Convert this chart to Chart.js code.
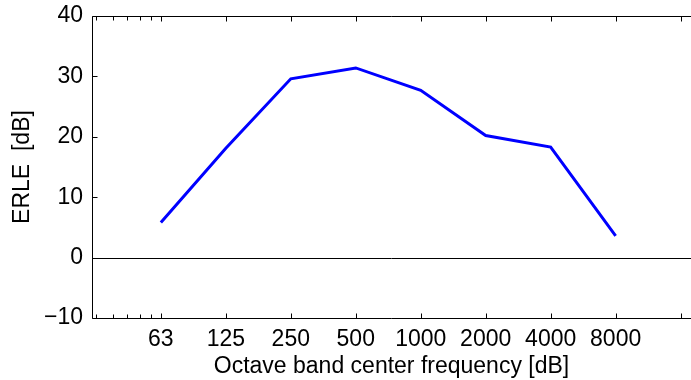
<!DOCTYPE html>
<html>
<head>
<meta charset="utf-8">
<script src="https://cdn.jsdelivr.net/npm/chart.js@4.4.1/dist/chart.umd.min.js"></script>
<style>
  html, body { margin: 0; padding: 0; background: #fff; }
  #wrap { width: 691px; height: 380px; }
</style>
</head>
<body>
<div id="wrap"><canvas id="erle-canvas"></canvas></div>
<script>
// octave bands, plotted at their octave index
var freqLabels = ['63', '125', '250', '500', '1000', '2000', '4000', '8000'];
var octave = [0, 1, 2, 3, 4, 5, 6, 7];
var erle = [5.8, 18.1, 29.6, 31.4, 27.7, 20.2, 18.3, 3.6];
var yTicks = [-10, 0, 10, 20, 30, 40];

var fontFam = '"Liberation Sans", Arial, Helvetica, sans-serif';
var fontSize = 23;

var points = [];
octave.forEach(function (o, i) {
    points.push({x: o, y: erle[i]});
});

// matlab style box: inward ticks, minor log ticks, zero line
var boxPlugin = {
    id: 'box',
    afterDraw: function (chart) {
        var ctx = chart.ctx, a = chart.chartArea;
        var xs = chart.scales.x, ys = chart.scales.y;
        ctx.save();
        ctx.strokeStyle = '#000';
        ctx.lineWidth = 1;

        var y0 = Math.round(ys.getPixelForValue(0)) + 0.5;
        ctx.beginPath();
        ctx.moveTo(a.left, y0);
        ctx.lineTo(a.right, y0);
        ctx.stroke();

        var L = Math.round(a.left) + 0.5, T = Math.round(a.top) + 0.5, B = Math.round(a.bottom) + 0.5;
        ctx.beginPath();
        ctx.moveTo(a.right, T);
        ctx.lineTo(L, T);
        ctx.lineTo(L, B);
        ctx.lineTo(a.right, B);
        ctx.stroke();

        // x ticks: octave marks plus minor ticks below the first band
        var xt = [-1, Math.log2(0.6), Math.log2(0.7), Math.log2(0.8), Math.log2(0.9), 0, 1, 2, 3, 4, 5, 6, 7, 8];
        ctx.beginPath();
        xt.forEach(function (v) {
            var px = Math.round(xs.getPixelForValue(v)) + 0.5;
            var len = Number.isInteger(v) && v >= 0 ? 5 : 4;
            ctx.moveTo(px, B); ctx.lineTo(px, B - len);
            ctx.moveTo(px, T); ctx.lineTo(px, T + len);
        });
        yTicks.forEach(function (v) {
            var py = Math.round(ys.getPixelForValue(v)) + 0.5;
            ctx.moveTo(L, py); ctx.lineTo(L + 5, py);
        });
        ctx.stroke();
        ctx.restore();
    }
};

var ctx = document.getElementById('erle-canvas');

var LineGraph = new Chart(ctx, {
    type: 'line',
    data: {
        datasets: [{
            label: 'ERLE',
            data: points,
            borderColor: 'rgb(0, 0, 255)',
            backgroundColor: 'rgb(0, 0, 255)',
            borderWidth: 3,
            pointRadius: 0,
            fill: false,
            tension: 0
        }]
    },
    options: {
        responsive: true,
        maintainAspectRatio: false,
        animation: false,
        devicePixelRatio: 1,
        layout: {padding: {top: 16, right: 0, bottom: 0, left: 0}},
        plugins: {legend: {display: false}, tooltip: {enabled: false}},
        scales: {
            x: {
                type: 'linear',
                min: -1.06,
                max: 8.16,
                grid: {display: false, drawTicks: false},
                border: {display: false},
                afterBuildTicks: function (scale) {
                    scale.ticks = octave.map(function (o) { return {value: o}; });
                },
                afterFit: function (scale) {
                    scale.height = 62;
                    scale.paddingLeft = 0;
                    scale.paddingRight = 0;
                },
                ticks: {
                    padding: 8,
                    color: '#000',
                    maxRotation: 0,
                    autoSkip: false,
                    font: {family: fontFam, size: fontSize},
                    callback: function (v) { return freqLabels[v]; }
                },
                title: {
                    display: true,
                    text: 'Octave band center frequency [dB]',
                    color: '#000',
                    font: {family: fontFam, size: fontSize},
                    padding: {top: 0, bottom: 0}
                }
            },
            y: {
                min: -10,
                max: 40,
                grid: {display: false, drawTicks: false},
                border: {display: false},
                afterBuildTicks: function (scale) {
                    scale.ticks = yTicks.map(function (v) { return {value: v}; });
                },
                afterFit: function (scale) {
                    scale.width = 92;
                    scale.paddingTop = 0;
                    scale.paddingBottom = 0;
                },
                ticks: {
                    padding: 9,
                    color: '#000',
                    font: {family: fontFam, size: fontSize},
                    callback: function (v) { return v < 0 ? '\u2212' + Math.abs(v) : v; }
                },
                title: {
                    display: true,
                    text: 'ERLE  [dB]',
                    color: '#000',
                    font: {family: fontFam, size: fontSize},
                    padding: {top: 9, bottom: 0}
                }
            }
        }
    },
    plugins: [boxPlugin]
});
</script>
</body>
</html>
